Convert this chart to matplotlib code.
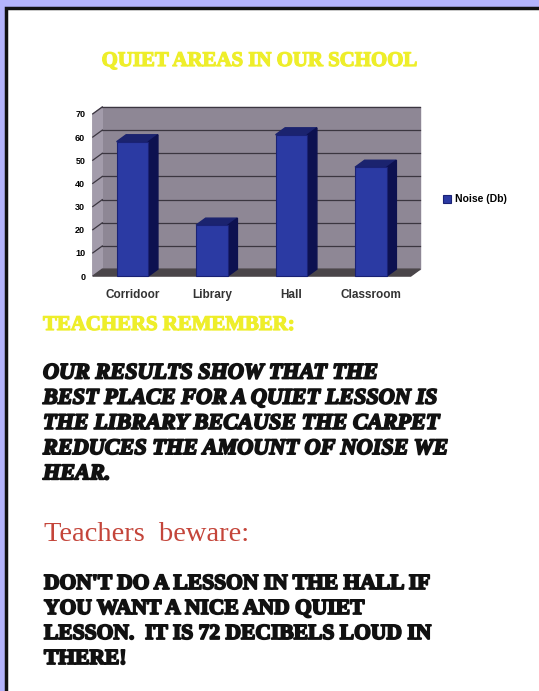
import matplotlib.pyplot as plt
import matplotlib.patheffects as pe
from matplotlib.patches import Rectangle

# datos del grafico
lugares = ["Corridoor", "Library", "Hall", "Classroom"]
ruido = [58, 22, 61, 47]
marcas_y = [0, 10, 20, 30, 40, 50, 60, 70]
leyenda = "Noise (Db)"

titulo = "QUIET AREAS IN OUR SCHOOL"
subtitulo = "TEACHERS REMEMBER:"
texto_1 = ["OUR RESULTS SHOW THAT THE",
           "BEST PLACE FOR A QUIET LESSON IS",
           "THE LIBRARY BECAUSE THE CARPET",
           "REDUCES THE AMOUNT OF NOISE WE",
           "HEAR."]
aviso = "Teachers  beware:"
texto_2 = ["DON'T DO A LESSON IN THE HALL IF",
           "YOU WANT A NICE AND QUIET",
           "LESSON.  IT IS 72 DECIBELS LOUD IN",
           "THERE!"]

W, H = 539, 691
def fx(px):
    return px / W
def fy(py):
    return 1 - py / H

def grueso(color, lw):
    # engorda las letras para parecerse a la fuente del poster
    return [pe.withStroke(linewidth=lw, foreground=color)]

fig = plt.figure(figsize=(W / 100, H / 100), dpi=100)
fig.patch.set_facecolor("#b3b3fb")
# panel blanco con borde negro arriba e izquierda
fig.add_artist(Rectangle((fx(6), -0.02), 1.1, fy(8) + 0.02, transform=fig.transFigure,
                         facecolor="white", edgecolor="#111111", lw=2.5, zorder=-10))

# ---- grafico de barras "3D" ----
ax = fig.add_axes([fx(88), fy(286.5), (425 - 88) / W, 186.5 / H])
ax.set_xlim(-0.56, 3.68)
ax.set_ylim(-4.5, 76)
ax.patch.set_alpha(0)
for s in ax.spines.values():
    s.set_visible(False)

xl, xr = -0.5, 3.5       # bordes delanteros
dx, dy = 0.12, 3.0       # profundidad
top = marcas_y[-1]

# pared del fondo, pared lateral y suelo
ax.fill([xl + dx, xr + dx, xr + dx, xl + dx], [dy, dy, top + dy, top + dy], color="#8e8795", zorder=1)
ax.fill([xl, xl + dx, xl + dx, xl], [0, dy, top + dy, top], color="#a39cab", zorder=1)
ax.fill([xl, xr, xr + dx, xl + dx], [0, 0, dy, dy], color="#4a4549", zorder=2)
for v in marcas_y[1:]:
    ax.plot([xl + dx, xr + dx], [v + dy, v + dy], color="#3b3640", lw=0.9, zorder=2)
    ax.plot([xl, xl + dx], [v, v + dy], color="#3b3640", lw=0.9, zorder=2)

x = list(range(len(lugares)))
ancho = 0.4
for xi, v in zip(x, ruido):
    a, b = xi - ancho / 2, xi + ancho / 2
    ax.fill([a, b, b + dx, a + dx], [v, v, v + dy, v + dy], color="#1b236f", zorder=3)
    ax.fill([b, b + dx, b + dx, b], [0, dy, v + dy, v], color="#0d1150", zorder=3)
barras = ax.bar(x, ruido, width=ancho, color="#2b3aa3", edgecolor="#1a2275", lw=0.8, zorder=4)

ax.set_yticks(marcas_y)
ax.set_yticklabels([str(m) for m in marcas_y], fontsize=6.5, fontweight="bold", family="Liberation Sans")
ax.set_xticks(x)
ax.set_xticklabels(lugares, fontsize=8.5, fontweight="bold", family="Liberation Sans", color="#333333")
ax.tick_params(axis="both", length=0)
ax.tick_params(axis="y", pad=2)
ax.tick_params(axis="x", pad=2)

ax.legend([barras], [leyenda], loc="center left", bbox_to_anchor=(fx(434), fy(199.5)),
          bbox_transform=fig.transFigure, frameon=False, handlelength=0.7, handleheight=0.7,
          handletextpad=0.4, prop={"family": "Liberation Sans", "size": 7.5, "weight": "bold"})

# ---- textos del poster ----
amarillo = "#eeee2a"
fig.text(fx(260), fy(66), titulo, ha="center", va="baseline", color=amarillo,
         fontsize=15, family="Liberation Serif", fontweight="bold", path_effects=grueso(amarillo, 0.9))
fig.text(fx(43), fy(330), subtitulo, ha="left", va="baseline", color=amarillo,
         fontsize=15, family="Liberation Serif", fontweight="bold", path_effects=grueso(amarillo, 0.9))

for i, linea in enumerate(texto_1):
    fig.text(fx(43), fy(378.5 + i * 25.2), linea, ha="left", va="baseline", color="#111111",
             fontsize=16, family="Liberation Serif", fontweight="bold", fontstyle="italic",
             path_effects=grueso("#111111", 1.3))

fig.text(fx(44), fy(541), aviso, ha="left", va="baseline", color="#c4453a",
         fontsize=20.5, family="Liberation Serif")

for i, linea in enumerate(texto_2):
    fig.text(fx(44), fy(589 + i * 25), linea, ha="left", va="baseline", color="#111111",
             fontsize=15.5, family="Liberation Serif", fontweight="bold",
             path_effects=grueso("#111111", 1.3))

plt.savefig("out.png", dpi=100)
